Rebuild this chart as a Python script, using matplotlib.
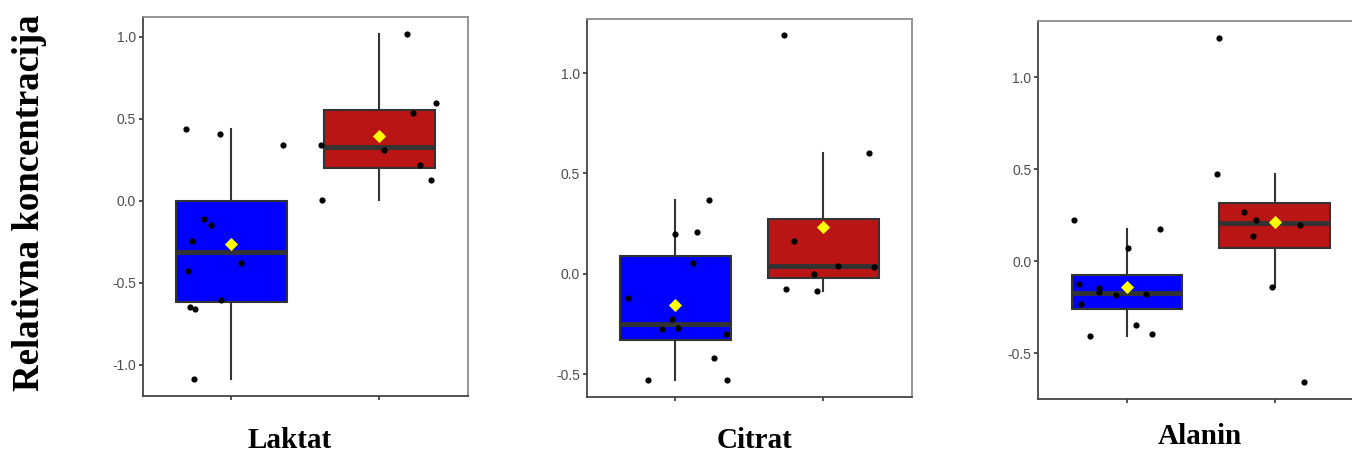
import matplotlib
matplotlib.use("Agg")
import matplotlib.pyplot as plt

plt.rcParams['axes.unicode_minus'] = False

#DATA
metabolites = ["Laktat", "Citrat", "Alanin"]
group_colors = ["#0000FF", "#BA1515"]

laktat_blue = [0.435, 0.405, 0.34, -0.114, -0.148, -0.246, -0.429, -0.382, -0.605, -0.646, -0.66, -1.087]
laktat_blue_jit = [-0.307, -0.078, 0.35, -0.184, -0.139, -0.269, -0.296, 0.062, -0.071, -0.28, -0.247, -0.253]
laktat_red = [1.015, 0.594, 0.537, 0.341, 0.311, 0.22, 0.128, 0.004]
laktat_red_jit = [0.19, 0.386, 0.228, -0.395, 0.03, 0.276, 0.353, -0.39]

citrat_blue = [-0.121, 0.198, 0.208, 0.369, 0.053, -0.226, -0.276, -0.272, -0.301, -0.42, -0.53, -0.53]
citrat_blue_jit = [-0.32, 0.0, 0.146, 0.227, 0.121, -0.022, -0.09, 0.016, 0.339, 0.263, -0.187, 0.346]
citrat_red = [1.188, 0.6, 0.164, 0.041, 0.035, 0.0, -0.075, -0.085]
citrat_red_jit = [-0.265, 0.306, -0.198, 0.099, 0.34, -0.063, -0.25, -0.04]

alanin_blue = [0.223, 0.176, 0.069, -0.125, -0.149, -0.168, -0.187, -0.178, -0.232, -0.348, -0.397, -0.406]
alanin_blue_jit = [-0.361, 0.221, 0.007, -0.327, -0.192, -0.192, -0.077, 0.129, -0.311, 0.063, 0.167, -0.25]
alanin_red = [1.214, 0.474, 0.265, 0.223, 0.138, 0.194, -0.14, -0.659]
alanin_red_jit = [-0.379, -0.389, -0.21, -0.129, -0.147, 0.169, -0.016, 0.2]

panel_data = [
    (laktat_blue, laktat_blue_jit, laktat_red, laktat_red_jit),
    (citrat_blue, citrat_blue_jit, citrat_red, citrat_red_jit),
    (alanin_blue, alanin_blue_jit, alanin_red, alanin_red_jit),
]
y_ticks = [[-1.0, -0.5, 0.0, 0.5, 1.0], [-0.5, 0.0, 0.5, 1.0], [-0.5, 0.0, 0.5, 1.0]]
y_limits = [(-1.19, 1.12), (-0.616, 1.27), (-0.75, 1.306)]

#LAYOUT (pixels of the 1352x454 picture)
W, H = 1352, 454
panel_px = [(142.7, 468.0, 17.0, 396.0), (586.7, 912.0, 19.0, 397.3), (1038.3, 1363.3, 20.7, 399.0)]
title_px = [(290, 440), (754, 440), (1200, 437)]

fig = plt.figure(figsize=(W / 100, H / 100), dpi=100)

for i, (left, right, top, bottom) in enumerate(panel_px):
    ax = fig.add_axes([left / W, 1 - bottom / H, (right - left) / W, (bottom - top) / H])
    blue, blue_jit, red, red_jit = panel_data[i]

    bp = ax.boxplot([blue, red], positions=[1, 2], widths=0.75, patch_artist=True,
                    showfliers=False, showcaps=False, whis=1.5,
                    boxprops=dict(edgecolor="#333333", linewidth=1.5),
                    whiskerprops=dict(color="#333333", linewidth=1.5),
                    medianprops=dict(color="#333333", linewidth=3.5))
    for patch, c in zip(bp["boxes"], group_colors):
        patch.set_facecolor(c)

    for pos, vals, jit in [(1, blue, blue_jit), (2, red, red_jit)]:
        ax.scatter([pos + j for j in jit], vals, s=20, color="black", zorder=3, linewidths=0)
        ax.scatter([pos], [sum(vals) / len(vals)], marker="D", s=45, color="#FFFF00",
                   zorder=4, linewidths=0)

    ax.set_xlim(0.4, 2.6)
    ax.set_ylim(*y_limits[i])
    ax.set_xticks([1, 2])
    ax.set_xticklabels([])
    ax.set_yticks(y_ticks[i])
    ax.set_yticklabels([f"{t:.1f}" for t in y_ticks[i]], fontsize=10,
                       family="Liberation Sans", color="#4D4D4D")
    ax.tick_params(direction="out", length=3, width=1.2, color="#333333", pad=2)
    for side in ["left", "bottom"]:
        ax.spines[side].set_color("#444444")
        ax.spines[side].set_linewidth(1.3)
    for side in ["top", "right"]:
        ax.spines[side].set_color("#8C8C8C")
        ax.spines[side].set_linewidth(1.3)

    tx, ty = title_px[i]
    fig.text(tx / W, 1 - ty / H, metabolites[i], ha="center", va="center",
             family="Liberation Serif", fontweight="bold", fontsize=21)

fig.text(30 / W, 1 - 203 / H, "Relativna koncentracija", rotation=90, ha="center", va="center",
         family="Liberation Serif", fontweight="bold", fontsize=26.5)

fig.savefig("out.png", dpi=100)
